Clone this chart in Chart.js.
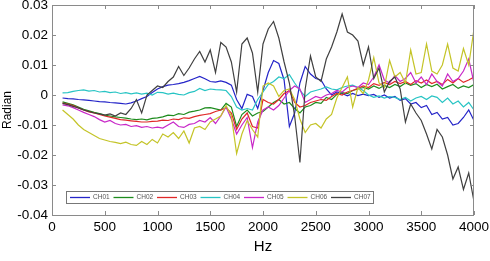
<!DOCTYPE html>
<html>
<head>
<meta charset="utf-8">
<script src="https://cdn.jsdelivr.net/npm/chart.js@4/dist/chart.umd.min.js"></script>
<style>
  html, body { margin: 0; padding: 0; background: #fff; }
  #wrap { width: 490px; height: 261px; }
</style>
</head>
<body>
<div id="wrap"><canvas id="phaseChart" width="490" height="261"></canvas></div>
<script>
// frequency grid, Hz
const freqs = [];
for (let f = 100; f <= 4000; f += 50) freqs.push(f);

const xTicks = [0, 500, 1000, 1500, 2000, 2500, 3000, 3500, 4000];
const yTicks = [-0.04, -0.03, -0.02, -0.01, 0, 0.01, 0.02, 0.03];

const channels = ['CH01', 'CH02', 'CH03', 'CH04', 'CH05', 'CH06', 'CH07'];
const colors = ['#2424c8', '#1e8c1e', '#e02828', '#28c4c4', '#c828c8', '#c4c428', '#404040'];

// phase values (radian), one per freq
const ch01 = [-0.0010, -0.0012, -0.0013, -0.0015, -0.0016, -0.0018, -0.0020, -0.0022, -0.0023, -0.0025,
  -0.0026, -0.0028, -0.0030, -0.0026, -0.0020, -0.0012, -0.0005, 0.0008, 0.0020, 0.0028,
  0.0033, 0.0035, 0.0038, 0.0042, 0.0048, 0.0055, 0.0062, 0.0054, 0.0045, 0.0043,
  0.0047, 0.0042, 0.0033, -0.0015, -0.0045, 0.0002, -0.0005, -0.0045, 0.0015, 0.0075,
  0.0115, 0.0105, 0.0050, -0.0105, -0.0060, 0.0040, 0.0095, 0.0070, 0.0055, 0.0050,
  0.0020, 0.0000, 0.0010, 0.0005, -0.0003, 0.0005, -0.0002, 0.0003, -0.0002, 0.0002,
  -0.0008, 0.0000, -0.0010, -0.0005, -0.0018, -0.0012, -0.0030, -0.0025, -0.0042, -0.0035,
  -0.0065, -0.0058, -0.0080, -0.0075, -0.0100, -0.0095, -0.0075, -0.0050, -0.0085];
const ch02 = [-0.0023, -0.0028, -0.0033, -0.0040, -0.0048, -0.0053, -0.0058, -0.0062, -0.0067, -0.0070,
  -0.0073, -0.0075, -0.0077, -0.0080, -0.0082, -0.0080, -0.0083, -0.0078, -0.0076, -0.0073,
  -0.0067, -0.0069, -0.0062, -0.0065, -0.0057, -0.0054, -0.0050, -0.0043, -0.0042, -0.0046,
  -0.0050, -0.0028, -0.0040, -0.0105, -0.0065, -0.0050, -0.0070, -0.0060, -0.0055, -0.0040,
  -0.0025, -0.0015, -0.0030, -0.0025, -0.0045, -0.0060, -0.0040, -0.0035, -0.0025, -0.0028,
  -0.0008, -0.0015, 0.0002, 0.0008, 0.0005, 0.0015, 0.0020, 0.0025, 0.0020, 0.0030,
  0.0022, 0.0032, 0.0025, 0.0035, 0.0028, 0.0040, 0.0032, 0.0038, 0.0025, 0.0035,
  0.0028, 0.0036, 0.0020, 0.0028, 0.0035, 0.0022, 0.0030, 0.0025, 0.0035];
const ch03 = [-0.0027, -0.0030, -0.0035, -0.0043, -0.0050, -0.0056, -0.0060, -0.0065, -0.0070, -0.0074,
  -0.0078, -0.0082, -0.0084, -0.0086, -0.0088, -0.0090, -0.0090, -0.0088, -0.0087, -0.0084,
  -0.0085, -0.0080, -0.0082, -0.0076, -0.0078, -0.0072, -0.0068, -0.0065, -0.0062, -0.0055,
  -0.0050, -0.0042, -0.0060, -0.0115, -0.0080, -0.0060, -0.0105, -0.0110, -0.0015, -0.0025,
  -0.0030, -0.0015, 0.0005, 0.0015, -0.0025, -0.0040, -0.0035, -0.0025, -0.0020, -0.0015,
  -0.0018, -0.0005, 0.0005, 0.0000, 0.0010, 0.0015, 0.0022, 0.0030, 0.0025, 0.0038,
  0.0032, 0.0042, 0.0035, 0.0045, 0.0038, 0.0045, 0.0035, 0.0048, 0.0040, 0.0050,
  0.0038, 0.0045, 0.0035, 0.0052, 0.0040, 0.0055, 0.0042, 0.0050, 0.0060];
const ch04 = [0.0007, 0.0008, 0.0012, 0.0015, 0.0017, 0.0013, 0.0015, 0.0010, 0.0012, 0.0008,
  0.0010, 0.0005, 0.0008, 0.0004, 0.0007, 0.0003, 0.0006, 0.0000, 0.0009, 0.0008,
  0.0003, 0.0006, 0.0002, 0.0000, 0.0008, 0.0012, 0.0022, 0.0015, 0.0020, 0.0018,
  0.0017, 0.0015, -0.0005, -0.0040, -0.0050, -0.0045, -0.0050, -0.0015, 0.0010, 0.0035,
  0.0045, 0.0060, 0.0055, 0.0068, 0.0040, 0.0015, -0.0005, 0.0010, 0.0015, 0.0020,
  0.0027, 0.0020, 0.0017, 0.0025, 0.0030, 0.0033, 0.0025, 0.0015, 0.0000, -0.0008,
  -0.0003, -0.0010, -0.0005, -0.0008, -0.0015, -0.0008, -0.0020, -0.0010, -0.0005, -0.0015,
  -0.0003, -0.0008, -0.0025, -0.0010, -0.0030, -0.0020, -0.0040, -0.0025, -0.0050];
const ch05 = [-0.0033, -0.0036, -0.0042, -0.0050, -0.0058, -0.0065, -0.0072, -0.0082, -0.0090, -0.0085,
  -0.0095, -0.0100, -0.0098, -0.0105, -0.0102, -0.0108, -0.0105, -0.0110, -0.0107, -0.0110,
  -0.0100, -0.0090, -0.0105, -0.0108, -0.0098, -0.0095, -0.0085, -0.0090, -0.0075, -0.0095,
  -0.0070, -0.0040, -0.0080, -0.0130, -0.0100, -0.0075, -0.0175, -0.0090, -0.0050, -0.0040,
  -0.0050, -0.0035, -0.0010, 0.0015, 0.0030, 0.0020, -0.0025, -0.0015, -0.0005, -0.0010,
  0.0000, 0.0005, 0.0015, 0.0010, 0.0025, 0.0030, 0.0025, 0.0040, 0.0035, 0.0060,
  0.0100, 0.0050, 0.0040, 0.0065, 0.0045, 0.0055, 0.0075, 0.0040, 0.0060, 0.0035,
  0.0070, 0.0045, 0.0030, 0.0070, 0.0045, 0.0055, 0.0080, 0.0120, 0.0040];
const ch06 = [-0.0050, -0.0065, -0.0080, -0.0100, -0.0115, -0.0125, -0.0135, -0.0145, -0.0150, -0.0155,
  -0.0158, -0.0162, -0.0157, -0.0165, -0.0168, -0.0155, -0.0165, -0.0148, -0.0160, -0.0130,
  -0.0140, -0.0125, -0.0145, -0.0120, -0.0160, -0.0110, -0.0105, -0.0115, -0.0090, -0.0080,
  -0.0070, -0.0035, -0.0070, -0.0195, -0.0130, -0.0085, -0.0115, -0.0140, 0.0030, 0.0040,
  0.0030, -0.0005, 0.0015, 0.0020, -0.0015, -0.0080, -0.0125, -0.0100, -0.0095, -0.0110,
  -0.0080, -0.0065, -0.0010, 0.0025, 0.0060, -0.0040, 0.0025, 0.0005, 0.0050, 0.0125,
  0.0040, 0.0025, 0.0115, 0.0060, 0.0075, 0.0040, 0.0150, 0.0070, 0.0075, 0.0170,
  0.0080, 0.0070, 0.0100, 0.0170, 0.0090, 0.0080, 0.0155, 0.0100, 0.0220];
const ch07 = [-0.0028, -0.0032, -0.0038, -0.0043, -0.0050, -0.0055, -0.0060, -0.0063, -0.0067, -0.0063,
  -0.0070, -0.0060, -0.0065, -0.0045, -0.0015, -0.0060, 0.0000, 0.0015, 0.0030, 0.0025,
  0.0045, 0.0060, 0.0095, 0.0065, 0.0090, 0.0120, 0.0145, 0.0110, 0.0150, 0.0075,
  0.0175, 0.0160, 0.0110, 0.0010, 0.0170, 0.0190, 0.0140, 0.0010, 0.0170, 0.0220,
  0.0245, 0.0190, 0.0110, 0.0040, -0.0070, -0.0225, 0.0020, 0.0130, 0.0060, 0.0045,
  0.0120, 0.0160, 0.0210, 0.0270, 0.0210, 0.0200, 0.0180, 0.0100, 0.0160, 0.0055,
  0.0090, 0.0010, 0.0045, 0.0060, 0.0020, -0.0090, -0.0030, -0.0060, -0.0085, -0.0130,
  -0.0180, -0.0115, -0.0140, -0.0200, -0.0280, -0.0240, -0.0315, -0.0260, -0.0355];

const series = [ch01, ch02, ch03, ch04, ch05, ch06, ch07];

const datasets = series.map((vals, i) => ({
  label: channels[i],
  data: vals.map((v, k) => ({ x: freqs[k], y: v })),
  borderColor: colors[i],
  borderWidth: 1.2,
  pointRadius: 0,
  tension: 0,
  fill: false,
  order: channels.length - 1 - i   // CH07 ends up on top, like the original plot
}));

// frame, inward ticks and the boxed legend inside the axes
const framePlugin = {
  id: 'frame',
  afterDraw(chart) {
    const { ctx, chartArea: a, scales: { x, y } } = chart;
    ctx.save();
    ctx.strokeStyle = '#8a8a8a';
    ctx.lineWidth = 1;
    ctx.strokeRect(a.left + 0.5, a.top + 0.5, a.right - a.left - 1, a.bottom - a.top);
    ctx.beginPath();
    xTicks.forEach(v => {
      const px = Math.round(x.getPixelForValue(v)) + 0.5;
      ctx.moveTo(px, a.bottom); ctx.lineTo(px, a.bottom - 4);
      ctx.moveTo(px, a.top); ctx.lineTo(px, a.top + 4);
    });
    yTicks.forEach(v => {
      const py = Math.round(y.getPixelForValue(v)) + 0.5;
      ctx.moveTo(a.left, py); ctx.lineTo(a.left + 4, py);
      ctx.moveTo(a.right, py); ctx.lineTo(a.right - 4, py);
    });
    ctx.stroke();

    // legend
    const lx = a.left + 14, ly = a.bottom - 24, lw = 307, lh = 12;
    ctx.fillStyle = '#fff';
    ctx.fillRect(lx, ly, lw, lh);
    ctx.strokeStyle = '#777';
    ctx.strokeRect(lx + 0.5, ly + 0.5, lw, lh);
    ctx.font = '6.5px "Liberation Sans", Arial, sans-serif';
    ctx.textBaseline = 'middle';
    ctx.lineWidth = 1.3;
    const cy = ly + lh / 2 + 0.5;
    channels.forEach((name, i) => {
      const sx = lx + 4 + i * 43.5;
      ctx.strokeStyle = colors[i];
      ctx.beginPath();
      ctx.moveTo(sx, cy); ctx.lineTo(sx + 20, cy);
      ctx.stroke();
      ctx.fillStyle = '#555';
      ctx.fillText(name, sx + 23, cy);
    });
    ctx.restore();
  }
};

const tickFont = { family: '"Liberation Sans", Arial, sans-serif', size: 13.5 };

new Chart(document.getElementById('phaseChart'), {
  type: 'line',
  data: { datasets },
  options: {
    responsive: false,
    animation: false,
    layout: { padding: { top: 5, right: 16, left: 0, bottom: 0 } },
    plugins: { legend: { display: false }, tooltip: { enabled: false } },
    scales: {
      x: {
        type: 'linear',
        min: 0, max: 4000,
        afterBuildTicks: s => { s.ticks = xTicks.map(v => ({ value: v })); },
        afterFit: s => { s.height = 46; s.paddingLeft = 0; s.paddingRight = 0; },
        grid: { display: false, drawTicks: false },
        border: { display: false },
        ticks: {
          padding: 4,
          color: '#000',
          font: tickFont,
          maxRotation: 0,
          callback: v => String(v)
        },
        title: {
          display: true, text: 'Hz', color: '#000',
          font: { family: '"Liberation Sans", Arial, sans-serif', size: 15 },
          padding: { top: 0, bottom: 5 }
        }
      },
      y: {
        min: -0.04, max: 0.03,
        afterBuildTicks: s => { s.ticks = yTicks.map(v => ({ value: v })); },
        afterFit: s => { s.width = 52; s.paddingTop = 0; s.paddingBottom = 0; },
        grid: { display: false, drawTicks: false },
        border: { display: false },
        ticks: {
          padding: 4,
          color: '#000',
          font: tickFont,
          callback: v => String(+v.toFixed(2))
        },
        title: {
          display: true, text: 'Radian', color: '#000',
          font: { family: '"Liberation Sans", Arial, sans-serif', size: 12 },
          padding: { top: 0, bottom: 0 }
        }
      }
    }
  },
  plugins: [framePlugin]
});
</script>
</body>
</html>
